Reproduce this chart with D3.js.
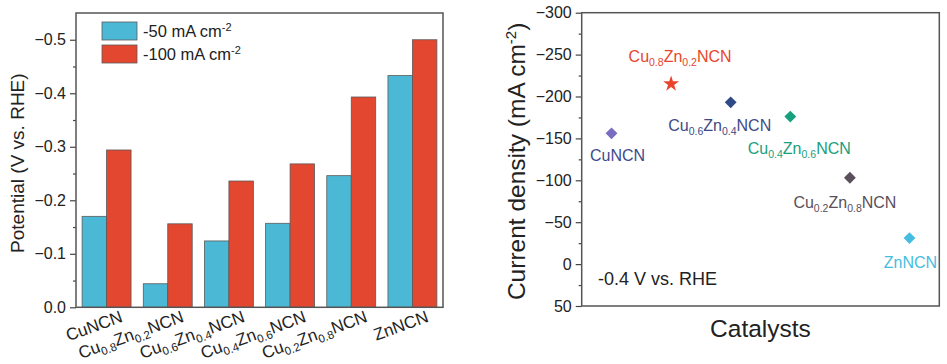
<!DOCTYPE html>
<html>
<head>
<meta charset="utf-8">
<script src="https://cdn.jsdelivr.net/npm/d3@7"></script>
<style>
  body { margin: 0; background: #fff; }
  svg { display: block; font-family: "Liberation Sans", Arial, sans-serif; }
</style>
</head>
<body>
<div id="chart"></div>
<script>
// data
const catalysts = ["CuNCN", "Cu0.8Zn0.2NCN", "Cu0.6Zn0.4NCN", "Cu0.4Zn0.6NCN", "Cu0.2Zn0.8NCN", "ZnNCN"];
const seriesNames = ["-50 mA cm-2", "-100 mA cm-2"];
const potentialAt50 = [-0.170, -0.044, -0.124, -0.157, -0.246, -0.433];
const potentialAt100 = [-0.294, -0.156, -0.236, -0.268, -0.393, -0.500];
const potentialTicks = [0, -0.1, -0.2, -0.3, -0.4, -0.5];
const currentDensity = [-156, -215, -193, -176, -103, -31];
const currentTicks = [50, 0, -50, -100, -150, -200, -250, -300];

// styling
const barColors = ["#4bb9d5", "#e4472f"];
const markerColors = ["#7a6cc0", "#e8452c", "#2f4a86", "#17a07e", "#5a4f5a", "#46bde0"];
const labelColors = ["#3d4a8c", "#e8452c", "#3d4a86", "#17a07e", "#5a4f5a", "#46bde0"];
const labelOffsets = [[6, 28], [9, -22], [-11, 29], [9, 37], [-5, 30], [1, 30]];

const svg = d3.select("#chart").append("svg")
    .attr("width", 947)
    .attr("height", 364);

// write a label with x.y numbers as subscripts
function richText(sel, label, fs, ss, shift) {
    let down = false;
    label.split(/(\d\.\d)/).forEach(p => {
        if (!p) return;
        const sub = /^\d\.\d$/.test(p);
        const t = sel.append("tspan").attr("font-size", sub ? ss : fs).text(p);
        if (sub && !down) { t.attr("dy", shift); down = true; }
        else if (!sub && down) { t.attr("dy", -shift); down = false; }
    });
}

// text with a trailing "-2" superscript on "cm"
function supText(sel, label, fs, ss, shift) {
    const m = label.match(/^(.*cm)(-2)(.*)$/);
    sel.append("tspan").attr("font-size", fs).text(m[1]);
    sel.append("tspan").attr("font-size", ss).attr("dy", -shift).text(m[2]);
    sel.append("tspan").attr("font-size", fs).attr("dy", shift).text(m[3]);
}

// ---------- left panel: bars ----------
const L = { left: 76, right: 443, top: 13, bottom: 307.3 };
const left = svg.append("g");

const x0 = d3.scaleBand()
    .domain(catalysts)
    .range([L.left, L.right])
    .paddingInner(0.2)
    .paddingOuter(0.1);
const x1 = d3.scaleBand()
    .domain([0, 1])
    .range([0, x0.bandwidth()]);
const yPot = d3.scaleLinear()
    .domain([0, -0.55])
    .range([L.bottom, L.top]);

const barData = catalysts.map((c, i) => ({ c, vals: [potentialAt50[i], potentialAt100[i]] }));

left.selectAll("g.grp")
    .data(barData)
    .enter()
    .append("g")
    .attr("class", "grp")
    .attr("transform", d => `translate(${x0(d.c)},0)`)
    .selectAll("rect")
    .data(d => d.vals.map((v, k) => ({ v, k })))
    .enter()
    .append("rect")
    .attr("x", d => x1(d.k))
    .attr("width", x1.bandwidth())
    .attr("y", d => yPot(d.v))
    .attr("height", d => yPot(0) - yPot(d.v))
    .attr("fill", d => barColors[d.k])
    .attr("stroke", "#5a5a5a")
    .attr("stroke-width", 0.8);

// minor ticks
left.append("g")
    .attr("transform", `translate(${L.left},0)`)
    .call(d3.axisLeft(yPot).tickValues(d3.range(0, 11).map(i => -0.05 - i * 0.1).filter(v => v > -0.55)).tickSize(3).tickFormat(""))
    .call(g => g.select(".domain").remove())
    .call(g => g.selectAll("line").attr("stroke", "#444").attr("stroke-width", 1.2));

left.append("g")
    .attr("transform", `translate(${L.left},0)`)
    .call(d3.axisLeft(yPot).tickValues(potentialTicks).tickSize(6).tickPadding(4).tickFormat(d3.format(".1f")))
    .call(g => g.select(".domain").remove())
    .call(g => g.selectAll("line").attr("stroke", "#444").attr("stroke-width", 1.2))
    .call(g => g.selectAll("text").attr("font-size", 16).attr("fill", "#222").attr("font-family", "Liberation Sans, Arial, sans-serif"));

left.append("rect")
    .attr("x", L.left).attr("y", L.top)
    .attr("width", L.right - L.left).attr("height", L.bottom - L.top)
    .attr("fill", "none").attr("stroke", "#555").attr("stroke-width", 1.5);

// rotated category labels
catalysts.forEach(c => {
    const t = left.append("text")
        .attr("transform", `translate(${x0(c) + x0.bandwidth() / 2 + 17},${L.bottom + 14}) rotate(-20)`)
        .attr("text-anchor", "end")
        .attr("fill", "#222");
    richText(t, c, 17, 11.5, 4);
});

left.append("text")
    .attr("transform", `translate(24,${(L.top + L.bottom) / 2 + 3}) rotate(-90)`)
    .attr("text-anchor", "middle")
    .attr("font-size", 19)
    .attr("fill", "#222")
    .text("Potential (V vs. RHE)");

// legend
const legend = left.append("g");
seriesNames.forEach((s, i) => {
    legend.append("rect")
        .attr("x", 102).attr("y", 22 + i * 23)
        .attr("width", 35).attr("height", 18)
        .attr("fill", barColors[i])
        .attr("stroke", "#5a5a5a").attr("stroke-width", 0.8);
    const t = legend.append("text")
        .attr("x", 143).attr("y", 37 + i * 23)
        .attr("fill", "#222");
    supText(t, s, 16.5, 11, 6);
});

// ---------- right panel: current density ----------
const R = { left: 581.7, right: 939.3, top: 12.7, bottom: 306 };
const right = svg.append("g");

const xCat = d3.scalePoint()
    .domain(catalysts)
    .range([R.left, R.right])
    .padding(0.5);
const yCur = d3.scaleLinear()
    .domain([50, -300])
    .range([R.bottom, R.top]);

right.append("g")
    .attr("transform", `translate(${R.left},0)`)
    .call(d3.axisLeft(yCur).tickValues(d3.range(25, -300, -50)).tickSize(3).tickFormat(""))
    .call(g => g.select(".domain").remove())
    .call(g => g.selectAll("line").attr("stroke", "#444").attr("stroke-width", 1.2));

right.append("g")
    .attr("transform", `translate(${R.left},0)`)
    .call(d3.axisLeft(yCur).tickValues(currentTicks).tickSize(6).tickPadding(4).tickFormat(d3.format("d")))
    .call(g => g.select(".domain").remove())
    .call(g => g.selectAll("line").attr("stroke", "#444").attr("stroke-width", 1.2))
    .call(g => g.selectAll("text").attr("font-size", 16).attr("fill", "#222").attr("font-family", "Liberation Sans, Arial, sans-serif"));

right.append("rect")
    .attr("x", R.left).attr("y", R.top)
    .attr("width", R.right - R.left).attr("height", R.bottom - R.top)
    .attr("fill", "none").attr("stroke", "#555").attr("stroke-width", 1.5);

const pts = catalysts.map((c, i) => ({ c, v: currentDensity[i], i }));

right.selectAll("path.marker")
    .data(pts)
    .enter()
    .append("path")
    .attr("class", "marker")
    .attr("d", d => d.i === 1
        ? d3.symbol().type(d3.symbolStar).size(78)()
        : d3.symbol().type(d3.symbolSquare).size(70)())
    .attr("transform", d => `translate(${xCat(d.c)},${yCur(d.v)})` + (d.i === 1 ? "" : " rotate(45)"))
    .attr("fill", d => markerColors[d.i]);

pts.forEach(d => {
    const t = right.append("text")
        .attr("x", xCat(d.c) + labelOffsets[d.i][0])
        .attr("y", yCur(d.v) + labelOffsets[d.i][1])
        .attr("text-anchor", "middle")
        .attr("fill", labelColors[d.i]);
    richText(t, d.c, 16, 10.5, 4);
});

right.append("text")
    .attr("x", 598)
    .attr("y", 285)
    .attr("font-size", 18)
    .attr("fill", "#222")
    .text("-0.4 V vs. RHE");

right.append("text")
    .attr("x", (R.left + R.right) / 2)
    .attr("y", 337)
    .attr("text-anchor", "middle")
    .attr("font-size", 24.5)
    .attr("fill", "#222")
    .text("Catalysts");

const yl = right.append("text")
    .attr("transform", `translate(525,${(R.top + R.bottom) / 2 + 2}) rotate(-90)`)
    .attr("text-anchor", "middle")
    .attr("fill", "#222");
supText(yl, "Current density (mA cm-2)", 24.5, 15, 9);
</script>
</body>
</html>
